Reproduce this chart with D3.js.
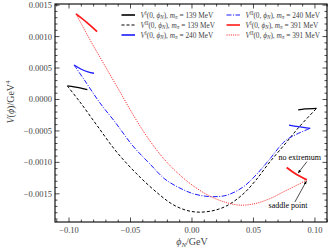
<!DOCTYPE html>
<html>
<head>
<meta charset="utf-8">
<script src="https://cdn.jsdelivr.net/npm/d3@7"></script>
<style>
  body { margin: 0; background: #fff; }
  text { font-family: "Liberation Serif", "DejaVu Serif", serif; }
</style>
</head>
<body>
<svg id="chart" width="332" height="250"></svg>
<script>
// data: [phi_N (GeV), V (GeV^4)]
const v2_139 = [[-0.1014,0.000215],[-0.0911,-0.00004],[-0.0775,-0.000406],[-0.0612,-0.000836],[-0.0423,-0.001234],
  [-0.026,-0.001521],[-0.0154,-0.001672],[-0.0049,-0.00176],[0.0049,-0.001791],[0.0171,-0.001768],[0.0285,-0.001688],
  [0.0415,-0.001505],[0.052,-0.001282],[0.0626,-0.001011],[0.0756,-0.000709],[0.0878,-0.000422],[0.1014,-0.00014]];
const v2_240 = [[-0.0959,0.000549],[-0.087,0.000295],[-0.0748,-0.000056],[-0.0626,-0.000358],[-0.048,-0.00074],
  [-0.0341,-0.001027],[-0.022,-0.001266],[-0.0098,-0.001409],[0.0008,-0.001497],[0.0106,-0.001537],[0.0187,-0.001545],
  [0.0285,-0.001521],[0.0415,-0.001393],[0.052,-0.001202],[0.0626,-0.000963],[0.0756,-0.000661],[0.0854,-0.000549],[0.0962,-0.000459]];
const v2_391 = [[-0.0943,0.001361],[-0.0829,0.000947],[-0.0707,0.000533],[-0.0585,0.000119],[-0.0463,-0.000295],
  [-0.0341,-0.000661],[-0.022,-0.000963],[-0.0098,-0.001202],[0.0024,-0.001393],[0.0146,-0.001537],[0.0268,-0.001632],
  [0.039,-0.00168],[0.0512,-0.001656],[0.0634,-0.001576],[0.0756,-0.001457],[0.0878,-0.001338],[0.0934,-0.001278]];
// V^I only exists near the ends
const v1_139 = [[[-0.1014,0.000215],[-0.0959,0.000202],[-0.0911,0.000186],[-0.0851,0.000158]],
  [[0.1014,-0.00014],[0.0919,-0.000151],[0.0864,-0.000167]]];
const v1_240 = [[[-0.0959,0.000549],[-0.09,0.000481],[-0.0846,0.000438],[-0.0797,0.000417]],
  [[0.0962,-0.000459],[0.0864,-0.000433],[0.0789,-0.000406]]];
const v1_391 = [[[-0.0943,0.001361],[-0.0856,0.001226],[-0.0772,0.00108]],
  [[0.077,-0.001083],[0.0851,-0.001194],[0.0934,-0.001278]]];

const xTicks = [-0.10, -0.05, 0.00, 0.05, 0.10];
const xTickLabels = ["\u22120.10", "\u22120.05", "0.00", "0.05", "0.10"];
const yTicks = [-0.0015, -0.0010, -0.0005, 0.0000, 0.0005, 0.0010, 0.0015];
const yTickLabels = ["\u22120.0015", "\u22120.0010", "\u22120.0005", "0.0000", "0.0005", "0.0010", "0.0015"];

const series = [
  {sup: "I",  mass: 139, color: "#000", dash: null,      width: 1.3, parts: v1_139},
  {sup: "II", mass: 139, color: "#000", dash: "3,2",     width: 1,   parts: [v2_139]},
  {sup: "I",  mass: 240, color: "#1a1aff", dash: null,      width: 1.3, parts: v1_240},
  {sup: "II", mass: 240, color: "#1a1aff", dash: "5,1.5,1,1.5", width: 1, parts: [v2_240]},
  {sup: "I",  mass: 391, color: "#ff1a1a", dash: null,      width: 1.8, parts: v1_391},
  {sup: "II", mass: 391, color: "#ff1a1a", dash: "1,1.2",   width: 1, parts: [v2_391]}
];

const svg = d3.select("#chart");
const margin = {top: 4, right: 5, bottom: 28, left: 55};
const width = +svg.attr("width") - margin.left - margin.right;
const height = +svg.attr("height") - margin.top - margin.bottom;
const g = svg.append("g").attr("transform", `translate(${margin.left},${margin.top})`);

const x = d3.scaleLinear().domain([-0.1114, 0.1098]).range([0, width]);
const y = d3.scaleLinear().domain([-0.001948, 0.001518]).range([height, 0]);

const line = d3.line().x(d => x(d[0])).y(d => y(d[1])).curve(d3.curveCatmullRom);

// curves
series.forEach(s => {
  s.parts.forEach(p => {
    g.append("path")
      .datum(p)
      .attr("fill", "none")
      .attr("stroke", s.color)
      .attr("stroke-width", s.width)
      .attr("stroke-dasharray", s.dash)
      .attr("d", line);
  });
});

// frame + ticks
const xMinor = d3.range(-0.11, 0.1101, 0.01).filter(v => !xTicks.some(t => Math.abs(t - v) < 1e-9));
const yMinor = d3.range(-0.0019, 0.00151, 0.0001).filter(v => !yTicks.some(t => Math.abs(t - v) < 1e-9));

function frameTicks(gg, scale, vals, len, horiz) {
  vals.forEach(v => {
    const p = scale(v);
    if (horiz) {
      gg.append("line").attr("x1", p).attr("x2", p).attr("y1", height).attr("y2", height - len);
      gg.append("line").attr("x1", p).attr("x2", p).attr("y1", 0).attr("y2", len);
    } else {
      gg.append("line").attr("y1", p).attr("y2", p).attr("x1", 0).attr("x2", len);
      gg.append("line").attr("y1", p).attr("y2", p).attr("x1", width).attr("x2", width - len);
    }
  });
}
const tg = g.append("g").attr("stroke", "#000").attr("stroke-width", 0.7);
frameTicks(tg, x, xTicks, 4.5, true);
frameTicks(tg, x, xMinor, 2.5, true);
frameTicks(tg, y, yTicks, 4.5, false);
frameTicks(tg, y, yMinor, 2.5, false);

g.append("rect").attr("width", width).attr("height", height)
  .attr("fill", "none").attr("stroke", "#000").attr("stroke-width", 1.1);

g.selectAll(".xl").data(xTicks).join("text")
  .attr("x", d => x(d)).attr("y", height + 11)
  .attr("text-anchor", "middle").attr("font-size", 8.5).attr("fill", "#444")
  .text((d, i) => xTickLabels[i]);

g.selectAll(".yl").data(yTicks).join("text")
  .attr("x", -3).attr("y", d => y(d) + 3)
  .attr("text-anchor", "end").attr("font-size", 8.5).attr("fill", "#444")
  .text((d, i) => yTickLabels[i]);

// axis titles
const xt = svg.append("text").attr("x", 192).attr("y", 245)
  .attr("text-anchor", "middle").attr("font-size", 10).attr("fill", "#444");
xt.append("tspan").attr("font-style", "italic").text("\u03d5");
xt.append("tspan").attr("font-style", "italic").attr("font-size", 7).attr("dy", 2).text("N");
xt.append("tspan").attr("dy", -2).text("/GeV");

const yt = svg.append("text").attr("transform", "translate(14,102) rotate(-90)")
  .attr("text-anchor", "middle").attr("font-size", 10).attr("fill", "#444");
yt.append("tspan").attr("font-style", "italic").text("V");
yt.append("tspan").text("(");
yt.append("tspan").attr("font-style", "italic").text("\u03d5");
yt.append("tspan").text(")/GeV");
yt.append("tspan").attr("font-size", 7).attr("dy", -4).text("4");

// legend
const lg = svg.append("g");
series.forEach((s, i) => {
  const col = Math.floor(i / 3), row = i % 3;
  const lx = col === 0 ? 121.5 : 226.5;
  const ly = 15 + row * 10;
  lg.append("line").attr("x1", lx).attr("x2", lx + 13.5).attr("y1", ly).attr("y2", ly)
    .attr("stroke", s.color).attr("stroke-width", s.dash ? 1.2 : 1.6)
    .attr("stroke-dasharray", s.dash);
  const t = lg.append("text").attr("x", lx + 19).attr("y", ly + 2.5)
    .attr("font-size", 7.3).attr("fill", "#444");
  t.append("tspan").attr("font-style", "italic").text("V");
  t.append("tspan").attr("font-size", 5.2).attr("dy", -3).text(s.sup);
  t.append("tspan").attr("dy", 3).text("(0, ");
  t.append("tspan").attr("font-style", "italic").text("\u03d5");
  t.append("tspan").attr("font-style", "italic").attr("font-size", 5.2).attr("dy", 1.5).text("N");
  t.append("tspan").attr("dy", -1.5).text("), ");
  t.append("tspan").attr("font-style", "italic").text("m");
  t.append("tspan").attr("font-style", "italic").attr("font-size", 5.2).attr("dy", 1.5).text("\u03c0");
  t.append("tspan").attr("dy", -1.5).text(` = ${s.mass} MeV`);
});

// annotations
svg.append("defs").append("marker").attr("id", "ah")
  .attr("viewBox", "0 0 10 10").attr("refX", 9).attr("refY", 5)
  .attr("markerWidth", 5).attr("markerHeight", 5).attr("orient", "auto")
  .append("path").attr("d", "M0,1 L10,5 L0,9 Z").attr("fill", "#000");

const notes = [
  {text: "no extremum", tx: 0.0876, ty: -0.000955, from: [0.0935, -0.000988], to: [0.0864, -0.001167]},
  {text: "saddle point", tx: 0.0781, ty: -0.001725, from: [0.0837, -0.00163], to: [0.0930, -0.0013]}
];
notes.forEach(n => {
  g.append("text").attr("x", x(n.tx)).attr("y", y(n.ty))
    .attr("text-anchor", "middle").attr("font-size", 8).attr("fill", "#000").text(n.text);
  g.append("line")
    .attr("x1", x(n.from[0])).attr("y1", y(n.from[1]))
    .attr("x2", x(n.to[0])).attr("y2", y(n.to[1]))
    .attr("stroke", "#000").attr("stroke-width", 0.7).attr("marker-end", "url(#ah)");
});
</script>
</body>
</html>
